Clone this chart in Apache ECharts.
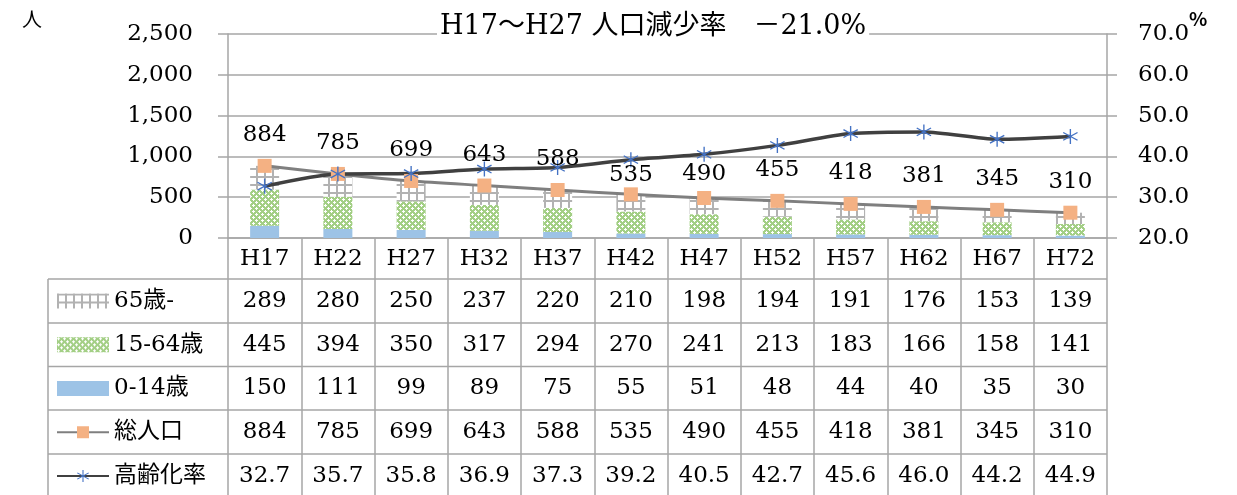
<!DOCTYPE html>
<html>
<head>
<meta charset="utf-8">
<script src="https://cdn.jsdelivr.net/npm/echarts@6/dist/echarts.min.js"></script>
<style>
  html, body { margin: 0; padding: 0; background: #fff; }
  #chart { width: 1237px; height: 495px; }
</style>
</head>
<body>
<div id="chart"></div>
<script>
// ---- data ----
const categories = ['H17', 'H22', 'H27', 'H32', 'H37', 'H42', 'H47', 'H52', 'H57', 'H62', 'H67', 'H72'];
const age65Plus = [289, 280, 250, 237, 220, 210, 198, 194, 191, 176, 153, 139];
const age15to64 = [445, 394, 350, 317, 294, 270, 241, 213, 183, 166, 158, 141];
const age0to14 = [150, 111, 99, 89, 75, 55, 51, 48, 44, 40, 35, 30];
const totalPopulation = [884, 785, 699, 643, 588, 535, 490, 455, 418, 381, 345, 310];
const agingRate = [32.7, 35.7, 35.8, 36.9, 37.3, 39.2, 40.5, 42.7, 45.6, 46.0, 44.2, 44.9];

const leftAxisMin = 0, leftAxisMax = 2500, leftAxisStep = 500;
const rightAxisMin = 20, rightAxisMax = 70, rightAxisStep = 10;

const titleText = 'H17～H27 人口減少率　－21.0%';
const seriesNames = ['65歳-', '15-64歳', '0-14歳', '総人口', '高齢化率'];

// ---- styling ----
const SERIF = "'DejaVu Serif', 'Noto Sans CJK JP', serif";
const SANS = "'Noto Sans CJK JP', 'Noto Sans', sans-serif";
const LINE_GRAY = '#a6a6a6';
const FS = 23;

// layout of the plot area and the data table beneath it
const GRID = { left: 228, right: 130, top: 34, bottom: 257 };
const TABLE_LEFT = 48;
const ROW_LINES = [279, 323, 366.5, 410, 454];
const ROW_PITCH = 43.75;

// total labels sit above the markers; two of them are pulled closer
// so they stay clear of the aging-rate line
const TOTAL_LABEL_DISTANCE = 12;
const totalLabelNudge = { 5: 11, 6: 7 };

// hatch fills
function gridPattern() {
  const c = document.createElement('canvas');
  c.width = 8; c.height = 8;
  const g = c.getContext('2d');
  g.fillStyle = '#fff'; g.fillRect(0, 0, 8, 8);
  g.fillStyle = '#b2b2b2';
  g.fillRect(0, 0, 8, 2);
  g.fillRect(0, 0, 2, 8);
  return { image: c, repeat: 'repeat' };
}
function dotPattern() {
  const c = document.createElement('canvas');
  c.width = 6; c.height = 6;
  const g = c.getContext('2d');
  g.fillStyle = '#a3cf85'; g.fillRect(0, 0, 6, 6);
  g.fillStyle = '#ffffff';
  [[1,0],[0,1],[1,1],[2,1],[1,2],[4,3],[3,4],[4,4],[5,4],[4,5]].forEach(([x, y]) => g.fillRect(x, y, 1, 1));
  return { image: c, repeat: 'repeat' };
}
// six-armed asterisk marker
function asteriskSymbol() {
  const segs = [[5, 0, 5, 10], [0.6, 2.4, 9.4, 7.6], [0.6, 7.6, 9.4, 2.4]];
  const h = 0.42;
  let d = '';
  segs.forEach(([x1, y1, x2, y2]) => {
    const dx = x2 - x1, dy = y2 - y1, L = Math.hypot(dx, dy);
    const nx = -dy / L * h, ny = dx / L * h;
    d += `M${x1 + nx} ${y1 + ny}L${x2 + nx} ${y2 + ny}L${x2 - nx} ${y2 - ny}L${x1 - nx} ${y1 - ny}Z`;
  });
  return 'path://' + d;
}

const legendText = { fontSize: FS, lineHeight: 23, color: '#000', fontFamily: SERIF };

const chart = echarts.init(document.getElementById('chart'), null, { renderer: 'canvas' });

const option = {
  animation: false,
  backgroundColor: '#fff',
  title: {
    text: titleText,
    left: 437, top: 12,
    padding: [1, 3],
    backgroundColor: '#fff',
    textStyle: { fontSize: 27, fontWeight: 'normal', color: '#000', fontFamily: SERIF }
  },
  legend: {
    orient: 'vertical',
    left: 56, top: 289.5,
    padding: 0,
    itemWidth: 52, itemHeight: 15,
    itemGap: ROW_PITCH - 23,
    selectedMode: false,
    textStyle: legendText,
    data: [
      { name: seriesNames[0], icon: 'rect', textStyle: legendText },
      { name: seriesNames[1], icon: 'rect', textStyle: legendText },
      { name: seriesNames[2], icon: 'rect', textStyle: legendText },
      { name: seriesNames[3], textStyle: legendText },
      { name: seriesNames[4], textStyle: legendText }
    ]
  },
  grid: GRID,
  xAxis: {
    type: 'category',
    data: categories,
    boundaryGap: true,
    axisLine: { show: true, lineStyle: { color: LINE_GRAY, width: 1.5 } },
    axisTick: { show: true, interval: 0, length: 260, lineStyle: { color: LINE_GRAY, width: 1.5 } },
    axisLabel: { interval: 0, margin: 8, fontSize: FS, lineHeight: 26, color: '#000', fontFamily: SERIF },
    splitLine: { show: false }
  },
  yAxis: [
    {
      type: 'value',
      min: leftAxisMin, max: leftAxisMax, interval: leftAxisStep,
      axisLine: { show: true, lineStyle: { color: LINE_GRAY, width: 1.5 } },
      axisTick: { show: true, length: 10, lineStyle: { color: LINE_GRAY, width: 1.5 } },
      axisLabel: {
        margin: 35, fontSize: FS, color: '#000', fontFamily: SERIF,
        formatter: v => v.toLocaleString('en-US')
      },
      splitLine: { show: true, lineStyle: { color: LINE_GRAY, width: 1.5 } }
    },
    {
      type: 'value',
      min: rightAxisMin, max: rightAxisMax, interval: rightAxisStep,
      axisLine: { show: true, lineStyle: { color: LINE_GRAY, width: 1.5 } },
      axisTick: { show: true, length: 10, lineStyle: { color: LINE_GRAY, width: 1.5 } },
      axisLabel: {
        margin: 31, fontSize: FS, color: '#000', fontFamily: SERIF,
        formatter: v => v.toFixed(1)
      },
      splitLine: { show: false }
    }
  ],
  series: [
    {
      name: seriesNames[2], type: 'bar', stack: 'pop', barWidth: 29,
      itemStyle: { color: '#9dc3e6' }, data: age0to14
    },
    {
      name: seriesNames[1], type: 'bar', stack: 'pop', barWidth: 29,
      itemStyle: { color: dotPattern() }, data: age15to64
    },
    {
      name: seriesNames[0], type: 'bar', stack: 'pop', barWidth: 29,
      itemStyle: { color: gridPattern() }, data: age65Plus
    },
    {
      name: seriesNames[3], type: 'line', yAxisIndex: 0,
      smooth: 0.25,
      symbol: 'rect', symbolSize: 14,
      itemStyle: { color: '#f4b183' },
      lineStyle: { color: '#7f7f7f', width: 3 },
      label: {
        show: true, position: 'top', distance: TOTAL_LABEL_DISTANCE,
        fontSize: FS, color: '#000', fontFamily: SERIF
      },
      data: totalPopulation.map((v, i) => (i in totalLabelNudge)
        ? { value: v, label: { distance: TOTAL_LABEL_DISTANCE - totalLabelNudge[i] } }
        : v)
    },
    {
      name: seriesNames[4], type: 'line', yAxisIndex: 1,
      smooth: 0.25,
      symbol: asteriskSymbol(), symbolSize: 15,
      itemStyle: { color: '#4472c4' },
      lineStyle: { color: '#404040', width: 3.5 },
      data: agingRate
    }
  ]
};

chart.setOption(option);

// ---- data table under the plot ----
function buildTable() {
  const gridRight = 1237 - GRID.right;
  const bottom = 495;
  const rows = [
    { values: age65Plus, fmt: v => String(v) },
    { values: age15to64, fmt: v => String(v) },
    { values: age0to14, fmt: v => String(v) },
    { values: totalPopulation, fmt: v => String(v) },
    { values: agingRate, fmt: v => v.toFixed(1) }
  ];
  const elements = [];
  ROW_LINES.forEach(y => {
    elements.push({
      type: 'line', silent: true,
      shape: { x1: TABLE_LEFT, y1: y, x2: gridRight, y2: y },
      style: { stroke: LINE_GRAY, lineWidth: 1.5 }
    });
  });
  elements.push({
    type: 'line', silent: true,
    shape: { x1: TABLE_LEFT, y1: ROW_LINES[0], x2: TABLE_LEFT, y2: bottom },
    style: { stroke: LINE_GRAY, lineWidth: 1.5 }
  });
  rows.forEach((row, r) => {
    const cy = ROW_LINES[0] + ROW_PITCH * (r + 0.5);
    row.values.forEach((v, i) => {
      const cx = chart.convertToPixel({ xAxisIndex: 0 }, categories[i]);
      elements.push({
        type: 'text', silent: true,
        x: cx, y: cy,
        style: {
          text: row.fmt(v), fill: '#000', font: `${FS}px ${SERIF}`,
          align: 'center', verticalAlign: 'middle'
        }
      });
    });
  });
  // unit captions
  elements.push({
    type: 'text', silent: true, x: 22, y: 9,
    style: { text: '人', fill: '#000', font: `20px ${SANS}` }
  });
  elements.push({
    type: 'text', silent: true, x: 1189, y: 9,
    style: { text: '%', fill: '#000', font: `bold 19px ${SANS}` }
  });
  chart.setOption({ graphic: elements });
}
buildTable();
</script>
</body>
</html>
